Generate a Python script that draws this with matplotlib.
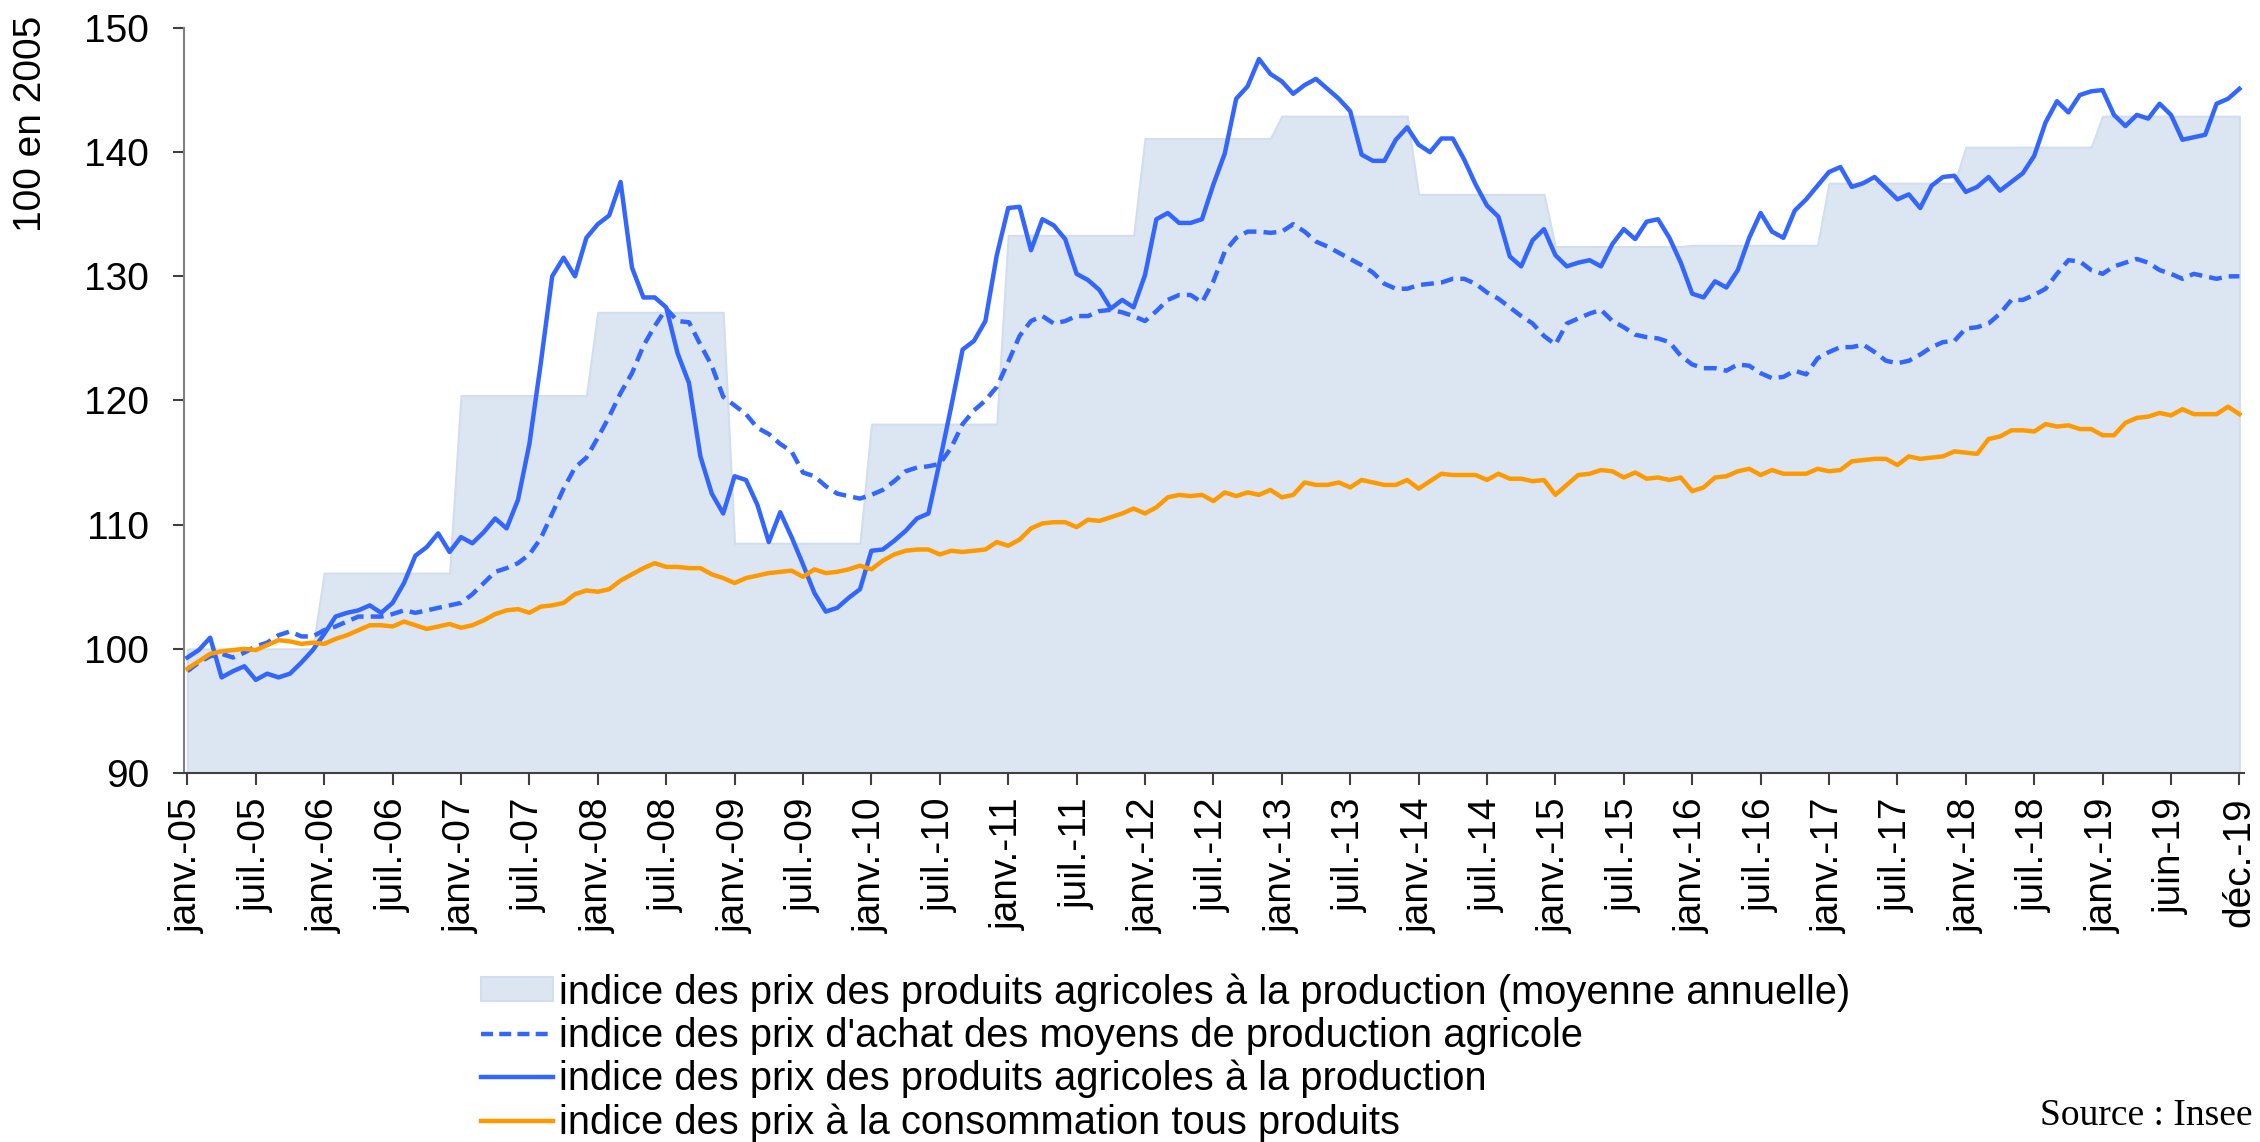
import numpy as np
import matplotlib
matplotlib.use('Agg')
import matplotlib.pyplot as plt
from matplotlib.patches import Patch
from matplotlib.lines import Line2D

# indice des prix des produits agricoles a la production (mensuel)
prix_prod = [
  99.3, 99.9, 100.9, 97.7, 98.2, 98.6, 97.5, 98.0, 97.7, 98.0, 98.9, 99.9,
  101.2, 102.6, 102.9, 103.1, 103.5, 102.9, 103.7, 105.3, 107.5, 108.2, 109.3, 107.8,
  109.0, 108.5, 109.4, 110.5, 109.7, 112.0, 116.5, 123.0, 130.0, 131.5, 130.0, 133.1,
  134.2, 134.9, 137.6, 130.7, 128.3, 128.3, 127.5, 123.8, 121.4, 115.5, 112.5, 110.9,
  113.9, 113.6, 111.6, 108.6, 111.0, 109.0, 106.8, 104.5, 103.0, 103.3, 104.1, 104.8,
  107.9, 108.0, 108.7, 109.5, 110.5, 110.9, 115.1, 119.5, 124.1, 124.8, 126.4, 131.7,
  135.5, 135.6, 132.1, 134.6, 134.1, 133.0, 130.2, 129.7, 128.9, 127.4, 128.1, 127.5,
  130.1, 134.6, 135.1, 134.3, 134.3, 134.6, 137.4, 139.9, 144.3, 145.3, 147.5, 146.3,
  145.7, 144.7, 145.4, 145.9, 145.1, 144.3, 143.3, 139.8, 139.3, 139.3, 141.0, 142.0,
  140.6, 140.0, 141.1, 141.1, 139.4, 137.4, 135.7, 134.8, 131.6, 130.8, 132.9, 133.8,
  131.7, 130.8, 131.1, 131.3, 130.8, 132.6, 133.8, 133.0, 134.4, 134.6, 133.1, 131.1,
  128.6, 128.3, 129.6, 129.1, 130.5, 133.1, 135.1, 133.6, 133.1, 135.3, 136.2, 137.3,
  138.4, 138.8, 137.2, 137.5, 138.0, 137.1, 136.2, 136.6, 135.5, 137.3, 138.0, 138.1,
  136.8, 137.2, 138.0, 136.9, 137.6, 138.3, 139.7, 142.4, 144.1, 143.2, 144.6, 144.9,
  145.0, 143.0, 142.1, 143.0, 142.7, 143.9, 143.0, 141.0, 141.2, 141.4, 143.9, 144.3,
  145.1]

# indice des prix d'achat des moyens de production agricole
prix_achat = [
  98.2, 98.9, 99.4, 99.6, 99.3, 99.7, 100.2, 100.5, 101.1, 101.4, 101.0, 101.0,
  101.5, 101.8, 102.2, 102.6, 102.6, 102.6, 102.8, 103.1, 102.9, 103.1, 103.3, 103.5,
  103.7, 104.4, 105.3, 106.2, 106.5, 106.9, 107.6, 108.9, 110.9, 112.9, 114.6, 115.4,
  117.0, 118.7, 120.6, 122.2, 124.4, 126.0, 127.4, 126.4, 126.3, 124.5, 122.8, 120.3,
  119.6, 118.9, 117.8, 117.3, 116.5, 115.9, 114.2, 113.9, 113.1, 112.5, 112.3, 112.1,
  112.4, 112.8, 113.5, 114.3, 114.6, 114.7, 114.9, 116.2, 118.1, 119.2, 120.0, 121.1,
  123.1, 125.2, 126.4, 126.8, 126.2, 126.4, 126.8, 126.8, 127.2, 127.3, 127.1, 126.8,
  126.4, 127.2, 128.1, 128.5, 128.5, 127.9, 129.6, 132.0, 133.1, 133.6, 133.6, 133.5,
  133.6, 134.2, 133.6, 132.8, 132.4, 131.9, 131.4, 130.9, 130.3, 129.4, 129.0, 129.0,
  129.3, 129.4, 129.5, 129.8, 129.8, 129.4, 128.7, 128.2, 127.5, 126.8, 126.2, 125.2,
  124.5, 126.2, 126.6, 127.0, 127.3, 126.4, 125.9, 125.3, 125.1, 125.0, 124.7, 123.6,
  122.9, 122.6, 122.6, 122.4, 122.9, 122.8, 122.2, 121.8, 121.9, 122.4, 122.1, 123.4,
  123.9, 124.3, 124.3, 124.5, 123.9, 123.2, 123.0, 123.2, 123.7, 124.3, 124.7, 124.8,
  125.8, 125.9, 126.2, 127.0, 128.1, 128.1, 128.5, 129.0, 130.2, 131.3, 131.2, 130.5,
  130.2, 130.8, 131.1, 131.4, 131.1, 130.5, 130.2, 129.8, 130.2, 130.0, 129.8, 130.0,
  130.0]

# indice des prix a la consommation tous produits
prix_conso = [
  98.4, 99.0, 99.6, 99.8, 99.9, 100.0, 99.9, 100.3, 100.7, 100.6, 100.4, 100.5,
  100.4, 100.8, 101.1, 101.5, 101.9, 101.9, 101.8, 102.2, 101.9, 101.6, 101.8, 102.0,
  101.7, 101.9, 102.3, 102.8, 103.1, 103.2, 102.9, 103.4, 103.5, 103.7, 104.4, 104.7,
  104.6, 104.8, 105.5, 106.0, 106.5, 106.9, 106.6, 106.6, 106.5, 106.5, 106.0, 105.7,
  105.3, 105.7, 105.9, 106.1, 106.2, 106.3, 105.8, 106.4, 106.1, 106.2, 106.4, 106.7,
  106.4, 107.1, 107.6, 107.9, 108.0, 108.0, 107.6, 107.9, 107.8, 107.9, 108.0, 108.6,
  108.3, 108.8, 109.7, 110.1, 110.2, 110.2, 109.8, 110.4, 110.3, 110.6, 110.9, 111.3,
  110.9, 111.4, 112.2, 112.4, 112.3, 112.4, 111.9, 112.6, 112.3, 112.6, 112.4, 112.8,
  112.2, 112.4, 113.4, 113.2, 113.2, 113.4, 113.0, 113.6, 113.4, 113.2, 113.2, 113.6,
  112.9, 113.5, 114.1, 114.0, 114.0, 114.0, 113.6, 114.1, 113.7, 113.7, 113.5, 113.6,
  112.4, 113.2, 114.0, 114.1, 114.4, 114.3, 113.8, 114.2, 113.7, 113.8, 113.6, 113.8,
  112.7, 113.0, 113.8, 113.9, 114.3, 114.5, 114.0, 114.4, 114.1, 114.1, 114.1, 114.5,
  114.3, 114.4, 115.1, 115.2, 115.3, 115.3, 114.8, 115.5, 115.3, 115.4, 115.5, 115.9,
  115.8, 115.7, 116.9, 117.1, 117.6, 117.6, 117.5, 118.1, 117.9, 118.0, 117.7, 117.7,
  117.2, 117.2, 118.2, 118.6, 118.7, 119.0, 118.8, 119.3, 118.9, 118.9, 118.9, 119.5,
  118.9]

# moyenne annuelle de l'indice des prix des produits agricoles, 2005 a 2019
moyenne_annuelle = [100.0, 106.1, 120.4, 127.1, 108.5, 118.1, 133.3, 141.1,
                    142.9, 136.6, 132.4, 132.5, 137.5, 140.4, 142.9]

tick_labels = ['janv.-05', 'juil.-05', 'janv.-06', 'juil.-06', 'janv.-07', 'juil.-07',
               'janv.-08', 'juil.-08', 'janv.-09', 'juil.-09', 'janv.-10', 'juil.-10',
               'janv.-11', 'juil.-11', 'janv.-12', 'juil.-12', 'janv.-13', 'juil.-13',
               'janv.-14', 'juil.-14', 'janv.-15', 'juil.-15', 'janv.-16', 'juil.-16',
               'janv.-17', 'juil.-17', 'janv.-18', 'juil.-18', 'janv.-19', 'juin-19',
               'déc.-19']

legend_labels = ['indice des prix des produits agricoles à la production (moyenne annuelle)',
                 "indice des prix d'achat des moyens de production agricole",
                 'indice des prix des produits agricoles à la production',
                 'indice des prix à la consommation tous produits']

BLUE = '#3366ff'
ORANGE = '#ff9900'
AREA = '#dce6f2'
LW = 3.2

plt.rcParams['font.family'] = ['Liberation Sans', 'DejaVu Sans']

x = np.arange(len(prix_prod))
# the annual mean is shown month by month, each month carrying its year's value
area = np.repeat(moyenne_annuelle, 12)
area = np.append(area, area[-1:].repeat(len(x) - len(area)))

fig = plt.figure(figsize=(22.6, 11.42), dpi=100)
ax = fig.add_axes([0.0814, 0.3231, 0.9115, 0.6524])

ax.fill_between(x, 90, area, color=AREA, edgecolor='#d2ddee', linewidth=1.5, zorder=1)
ax.plot(x, prix_achat, color=BLUE, linewidth=LW, dashes=(2.9, 1.6), zorder=3)
ax.plot(x, prix_prod, color=BLUE, linewidth=LW, zorder=4)
ax.plot(x, prix_conso, color=ORANGE, linewidth=LW, zorder=5)

ax.set_xlim(-0.3, 180.4)
ax.set_ylim(90, 150)
ax.set_yticks(range(90, 151, 10))
ax.set_xticks(np.arange(0, len(x), 6))
ax.set_xticklabels(tick_labels, rotation=90)

for side in ['top', 'right']:
  ax.spines[side].set_visible(False)
ax.spines['left'].set_color('#808080')
ax.spines['left'].set_linewidth(1.5)
ax.spines['bottom'].set_color('#404040')
ax.spines['bottom'].set_linewidth(1.5)

ax.tick_params(axis='y', direction='out', length=8, width=1.5, color='#404040',
               pad=17, labelsize=28)
ax.tick_params(axis='x', direction='out', length=8.5, width=1.5, color='#404040',
               pad=9, labelsize=28)

fig.text(31 / 2260, 1 - 124 / 1142, '100 en 2005', rotation=90,
         ha='center', va='center', fontsize=28)

handles = [Patch(facecolor=AREA, edgecolor='#d2ddee', linewidth=1.5),
           Line2D([], [], color=BLUE, linewidth=LW, dashes=(2.7, 1.4)),
           Line2D([], [], color=BLUE, linewidth=LW),
           Line2D([], [], color=ORANGE, linewidth=LW)]
fig.legend(handles, legend_labels, loc='upper left',
           bbox_to_anchor=(481 / 2260, 1 - 973 / 1142),
           frameon=False, fontsize=28.7, borderpad=0, borderaxespad=0,
           handlelength=1.8, handleheight=0.55, handletextpad=0.15,
           labelspacing=0.13)

fig.text(2252 / 2260, 1 - 1125 / 1142, 'Source : Insee', family='Liberation Serif',
         fontsize=27, va='baseline', ha='right')

plt.savefig('out.png', dpi=100)
